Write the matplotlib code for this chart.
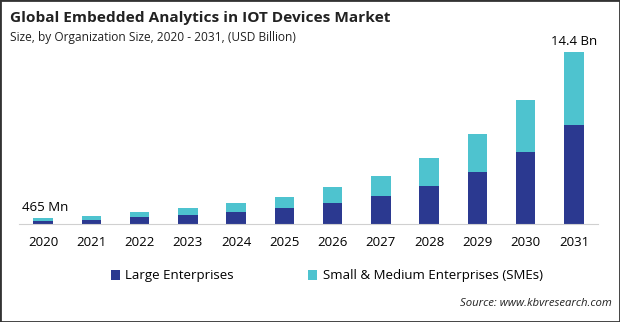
import matplotlib.pyplot as plt
from matplotlib.patches import Rectangle

years = ["2020", "2021", "2022", "2023", "2024", "2025", "2026", "2027", "2028", "2029", "2030", "2031"]
large = [0.28, 0.34, 0.59, 0.75, 1.00, 1.34, 1.76, 2.34, 3.18, 4.35, 6.03, 8.29]
smes = [0.185, 0.33, 0.41, 0.59, 0.76, 0.92, 1.34, 1.68, 2.35, 3.18, 4.35, 6.11]

dark = "#2B3990"
light = "#4EC3CF"

plt.rcParams['font.family'] = ['Open Sans', 'DejaVu Sans']

fig = plt.figure(figsize=(6.2, 3.22), dpi=100)
ax = fig.add_axes([19/620, 1-224/322, 579/620, 191/322])

x = list(range(len(years)))
ax.bar(x, large, width=0.4, color=dark, label="Large Enterprises")
ax.bar(x, smes, width=0.4, bottom=large, color=light, label="Small & Medium Enterprises (SMEs)")

ax.set_xlim(-0.5, 11.5)
ax.set_ylim(0, 16)
ax.set_xticks(x)
ax.set_xticklabels(years, fontsize=9.5)
ax.tick_params(axis='x', length=0, pad=9)
ax.set_yticks([])
for s in ["top", "left", "right"]:
    ax.spines[s].set_visible(False)
ax.spines["bottom"].set_color("#d0d0d0")

ax.text(0.05, large[0]+smes[0]+0.35, "465 Mn", ha="center", va="bottom", fontsize=9.5)
ax.text(11, large[-1]+smes[-1]+0.35, "14.4 Bn", ha="center", va="bottom", fontsize=9.5)

fig.text(10/620, 1-18/322, "Global Embedded Analytics in IOT Devices Market", fontsize=11.1, fontweight="bold", va="center", color="#222222")
fig.text(10/620, 1-38/322, "Size, by Organization Size, 2020 - 2031, (USD Billion)", fontsize=8.6, va="center", color="#222222")

fig.legend(loc="center", bbox_to_anchor=(0.527, 1-276/322), ncol=2, frameon=False, fontsize=9.5,
           handlelength=0.7, handleheight=0.7, handletextpad=0.4, columnspacing=5.6)

fig.text(612/620, 1-304/322, "Source: www.kbvresearch.com", fontsize=8.2, style="italic", ha="right", va="center", color="#222222")

fig.patches.append(Rectangle((0, 0), 1, 1, transform=fig.transFigure, fill=False, edgecolor="#333333", linewidth=2))

fig.savefig("out.png", dpi=100)
